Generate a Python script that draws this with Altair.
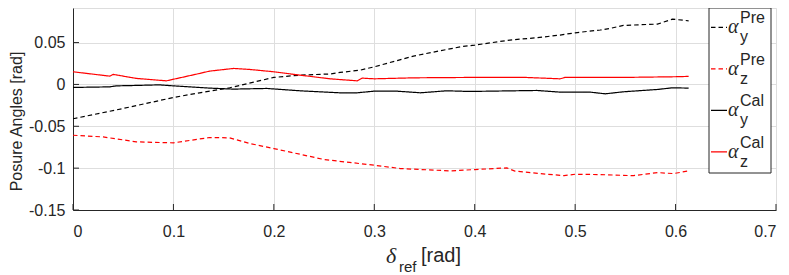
import altair as alt
import pandas as pd

# ---------------- data ----------------
ypre_d = [0, 0.05, 0.1, 0.126, 0.156, 0.2, 0.226, 0.256, 0.266, 0.286, 0.3, 0.339, 0.386, 0.4,
          0.435, 0.462, 0.485, 0.5, 0.525, 0.535, 0.548, 0.582, 0.597, 0.613]
ypre_v = [-0.041, -0.0287, -0.0156, -0.010, -0.004, 0.0084, 0.0111, 0.0125, 0.0143, 0.0171, 0.021,
          0.0339, 0.045, 0.047, 0.053, 0.0558, 0.059, 0.0617, 0.065, 0.067, 0.0705, 0.0721, 0.078, 0.076]

zpre_d = [0, 0.03, 0.063, 0.1, 0.136, 0.156, 0.176, 0.2, 0.25, 0.3, 0.326, 0.376, 0.4, 0.432,
          0.44, 0.465, 0.489, 0.5, 0.525, 0.558, 0.582, 0.598, 0.613]
zpre_v = [-0.0607, -0.0627, -0.0686, -0.0698, -0.0634, -0.0638, -0.0706, -0.0766, -0.0897, -0.0965,
          -0.1005, -0.1033, -0.1017, -0.0997, -0.1035, -0.1065, -0.109, -0.1073, -0.1077, -0.109,
          -0.1053, -0.1065, -0.1033]

ycal_d = [0, 0.0366, 0.043, 0.063, 0.086, 0.1, 0.136, 0.16, 0.193, 0.226, 0.266, 0.283, 0.3, 0.322,
          0.346, 0.372, 0.395, 0.462, 0.485, 0.515, 0.53, 0.548, 0.582, 0.597, 0.613]
ycal_v = [-0.0036, -0.0029, -0.0017, -0.0012, -0.0005, -0.0017, -0.0044, -0.0056, -0.0048, -0.0076,
          -0.0100, -0.0100, -0.0080, -0.0080, -0.0100, -0.0076, -0.0084, -0.0072, -0.0092, -0.0092,
          -0.0112, -0.0088, -0.006, -0.004, -0.0044]

zcal_d = [0, 0.0366, 0.04, 0.063, 0.093, 0.126, 0.136, 0.16, 0.176, 0.2, 0.226, 0.256, 0.283, 0.288,
          0.3, 0.339, 0.4, 0.45, 0.485, 0.49, 0.55, 0.6, 0.613]
zcal_v = [0.0151, 0.0099, 0.012, 0.0072, 0.0043, 0.0131, 0.0159, 0.0191, 0.0179, 0.0151, 0.0111,
          0.0067, 0.0043, 0.0075, 0.0067, 0.0079, 0.0084, 0.0084, 0.0067, 0.0084, 0.0084, 0.0092, 0.0096]

series_keys = ["ypre", "zpre", "ycal", "zcal"]
series_sup = ["Pre", "Pre", "Cal", "Cal"]
series_sub = ["y", "z", "y", "z"]
series_colors = ["#000000", "#ff0000", "#000000", "#ff0000"]
series_dash = [[4.5, 3], [4.5, 3], [1, 0], [1, 0]]

x_ticks = [0, 0.1, 0.2, 0.3, 0.4, 0.5, 0.6, 0.7]
y_ticks = [-0.15, -0.1, -0.05, 0, 0.05]

rows = []
for key, ds, vs in [("ypre", ypre_d, ypre_v), ("zpre", zpre_d, zpre_v),
                    ("ycal", ycal_d, ycal_v), ("zcal", zcal_d, zcal_v)]:
    for i, (d, v) in enumerate(zip(ds, vs)):
        rows.append({"series": key, "delta": d, "value": v, "order": i})
df = pd.DataFrame(rows)

W, H = 703, 202
AX = "#262626"
GRID = "#dedede"
SANS = "Liberation Sans"
SERIF = "Liberation Serif"

xs = alt.Scale(domain=[0, 0.7], nice=False, zero=False)
ys = alt.Scale(domain=[-0.15, 0.0913], nice=False, zero=False)

lines = alt.Chart(df).mark_line(strokeWidth=1.2, clip=True).encode(
    x=alt.X("delta:Q", scale=xs,
            axis=alt.Axis(values=x_ticks, title=None, grid=True, gridColor=GRID, ticks=False,
                          domainColor=AX, labelColor=AX, labelFont=SANS, labelFontSize=16,
                          labelPadding=13, labelExpr="'' + datum.value")),
    y=alt.Y("value:Q", scale=ys,
            axis=alt.Axis(values=y_ticks, title="Posure Angles [rad]", grid=True, gridColor=GRID,
                          ticks=False, domainColor=AX, labelColor=AX, labelFont=SANS,
                          labelFontSize=16, labelPadding=8, labelExpr="'' + datum.value",
                          titleFont=SANS, titleFontSize=16, titleFontWeight="normal",
                          titleColor=AX, titleX=-65, titleY=113, titleAlign="center",
                          titleBaseline="top", titleAngle=270)),
    color=alt.Color("series:N", scale=alt.Scale(domain=series_keys, range=series_colors), legend=None),
    strokeDash=alt.StrokeDash("series:N", scale=alt.Scale(domain=series_keys, range=series_dash),
                              legend=None),
    order="order:Q",
)

# inward ticks (MATLAB style)
xt = alt.Chart(pd.DataFrame({"t": x_ticks})).mark_rule(color=AX, strokeWidth=1).encode(
    x=alt.X("t:Q", scale=xs), y=alt.value(H), y2=alt.value(H - 6))
yt = alt.Chart(pd.DataFrame({"t": y_ticks})).mark_rule(color=AX, strokeWidth=1).encode(
    y=alt.Y("t:Q", scale=ys), x=alt.value(0), x2=alt.value(6))

one = pd.DataFrame({"a": [0]})
layers = [lines, xt, yt]

# x-axis title: delta_ref [rad]
layers.append(alt.Chart(one).mark_text(text="δ", font=SERIF, fontStyle="italic", fontSize=22,
                                       align="left", baseline="alphabetic", color=AX)
              .encode(x=alt.value(313), y=alt.value(255)))
layers.append(alt.Chart(one).mark_text(text="ref", font=SANS, fontSize=15, align="left",
                                       baseline="alphabetic", color=AX)
              .encode(x=alt.value(326), y=alt.value(264)))
layers.append(alt.Chart(one).mark_text(text="[rad]", font=SANS, fontSize=20, align="left",
                                       baseline="alphabetic", color=AX)
              .encode(x=alt.value(348), y=alt.value(254)))

# legend box
layers.append(alt.Chart(one).mark_rect(fill="white", stroke=AX, strokeWidth=1).encode(
    x=alt.value(636), x2=alt.value(698), y=alt.value(0), y2=alt.value(165)))
line_ys = [19.3, 60.8, 102.3, 143.8]
for i, ly in enumerate(line_ys):
    layers.append(alt.Chart(one).mark_rule(color=series_colors[i], strokeWidth=1.2,
                                           strokeDash=series_dash[i])
                  .encode(x=alt.value(638), x2=alt.value(654), y=alt.value(ly)))
    layers.append(alt.Chart(one).mark_text(text="α", font=SERIF, fontStyle="italic", fontSize=20,
                                           align="left", baseline="alphabetic", color=AX)
                  .encode(x=alt.value(655), y=alt.value(ly + 6)))
    layers.append(alt.Chart(one).mark_text(text=series_sup[i], font=SANS, fontSize=16,
                                           align="left", baseline="alphabetic", color=AX)
                  .encode(x=alt.value(667), y=alt.value(ly - 4)))
    layers.append(alt.Chart(one).mark_text(text=series_sub[i], font=SANS, fontSize=16,
                                           align="left", baseline="alphabetic", color=AX)
                  .encode(x=alt.value(667), y=alt.value(ly + 15)))

chart = alt.layer(*layers).properties(
    width=W, height=H,
    autosize=alt.AutoSizeParams(type="none"),
    padding={"left": 65, "top": 0, "right": 5, "bottom": 70},
).configure_view(strokeWidth=0).configure(background="white")

chart.save("out.html", embed_options={"renderer": "svg", "actions": False})
